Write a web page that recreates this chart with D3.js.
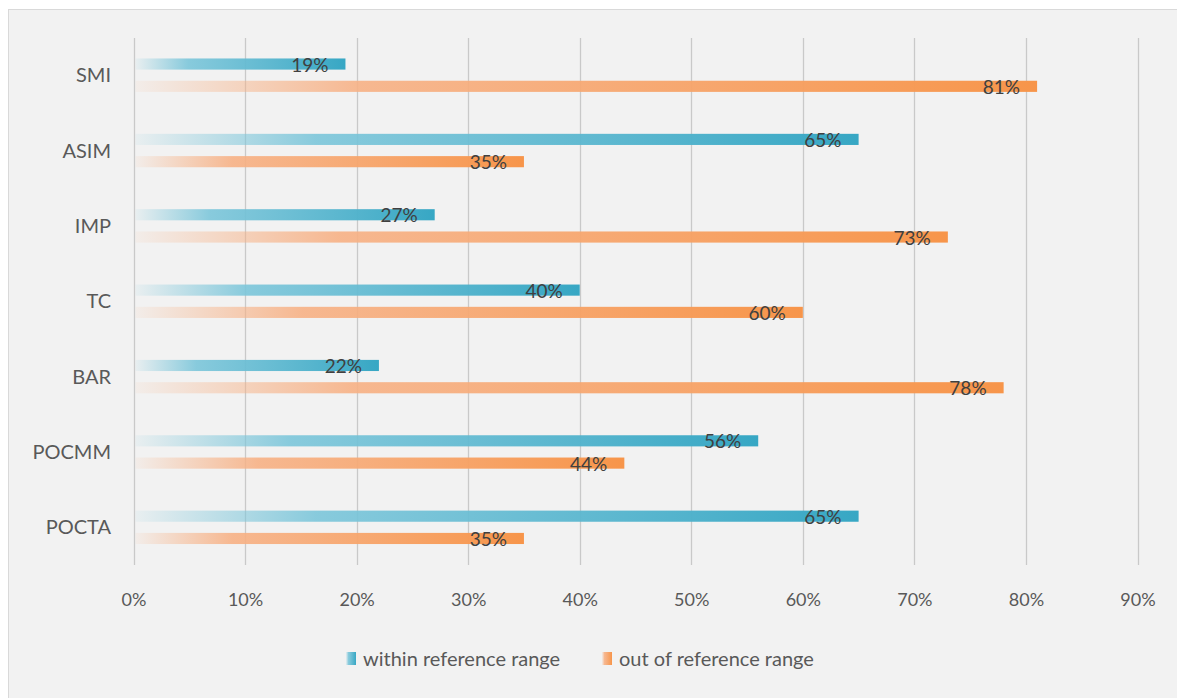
<!DOCTYPE html>
<html>
<head>
<meta charset="utf-8">
<script src="https://cdn.jsdelivr.net/npm/d3@7"></script>
<style>
  body { margin: 0; background: #fff; }
  text { font-family: Lato, "Open Sans", sans-serif; }
</style>
</head>
<body>
<div id="chart"></div>
<script>

// categories top to bottom
var categories = ["SMI", "ASIM", "IMP", "TC", "BAR", "POCMM", "POCTA"];
var withinRange = [0.19, 0.65, 0.27, 0.40, 0.22, 0.56, 0.65];
var outOfRange = [0.81, 0.35, 0.73, 0.60, 0.78, 0.44, 0.35];
var seriesNames = ["within reference range", "out of reference range"];
var xTicks = [0, 0.1, 0.2, 0.3, 0.4, 0.5, 0.6, 0.7, 0.8, 0.9];

var width = 1177, height = 698;

var svg = d3.select("#chart").append("svg")
  .attr("width", width)
  .attr("height", height);

// gradients like the office fill: pale at left, full colour at bar end
var defs = svg.append("defs");
var grads = [
  {id: "gBlue", mid: "#7cc6da", end: "#37a7c4"},
  {id: "gOrange", mid: "#f7b185", end: "#f7954a"}
];
grads.forEach(function(g) {
  var lg = defs.append("linearGradient").attr("id", g.id)
    .attr("x1", "0%").attr("x2", "100%").attr("y1", "0%").attr("y2", "0%");
  lg.append("stop").attr("offset", "0%").attr("stop-color", g.mid).attr("stop-opacity", 0.08);
  lg.append("stop").attr("offset", "25%").attr("stop-color", g.mid).attr("stop-opacity", 0.9);
  lg.append("stop").attr("offset", "100%").attr("stop-color", g.end).attr("stop-opacity", 1);
});

// chart frame
svg.append("rect")
  .attr("x", 8.5).attr("y", 9.5)
  .attr("width", width + 10).attr("height", height + 10)
  .attr("fill", "#f2f2f2")
  .attr("stroke", "#d9d9d9");

var x = d3.scaleLinear().domain([0, 0.9]).range([133.5, 1137.5]);
var y = d3.scaleBand().domain(categories).range([37.5, 565]);
var sub = d3.scaleBand().domain([0, 1]).range([-20.5, 20.5]).paddingInner(0.5).paddingOuter(0.17);

// gridlines
svg.append("g").selectAll("line")
  .data(xTicks)
  .join("line")
  .attr("x1", function(d) { return Math.round(x(d)) + 0.5; })
  .attr("x2", function(d) { return Math.round(x(d)) + 0.5; })
  .attr("y1", 38).attr("y2", 565)
  .attr("stroke", "#c9c9c9")
  .attr("stroke-width", 1.3);

// x axis labels
var xAxis = d3.axisBottom(x).tickValues(xTicks).tickFormat(d3.format(".0%")).tickSize(0).tickPadding(0);
var gx = svg.append("g").attr("transform", "translate(0,593)").call(xAxis);
gx.select(".domain").remove();
gx.selectAll("text")
  .attr("fill", "#595959")
  .style("font-size", "18px")
  .attr("dy", "0.7em");

// category labels
var yAxis = d3.axisLeft(y).tickSize(0).tickPadding(0);
var gy = svg.append("g").attr("transform", "translate(111,0)").call(yAxis);
gy.select(".domain").remove();
gy.selectAll("text")
  .attr("fill", "#595959")
  .style("font-size", "20px")
  .attr("dy", "0.35em");

// bars
var rows = categories.map(function(c, i) {
  return {cat: c, vals: [withinRange[i], outOfRange[i]]};
});
var fills = ["url(#gBlue)", "url(#gOrange)"];

var row = svg.append("g").selectAll("g")
  .data(rows)
  .join("g")
  .attr("transform", function(d) { return "translate(0," + (y(d.cat) + y.bandwidth() / 2) + ")"; });

row.selectAll("rect")
  .data(function(d) { return d.vals; })
  .join("rect")
  .attr("x", x(0) + 2)
  .attr("y", function(d, i) { return sub(i); })
  .attr("width", function(d) { return x(d) - x(0) - 2; })
  .attr("height", sub.bandwidth())
  .attr("fill", function(d, i) { return fills[i]; });

row.selectAll("text")
  .data(function(d) { return d.vals; })
  .join("text")
  .attr("x", function(d) { return x(d) - 17; })
  .attr("y", function(d, i) { return sub(i) + sub.bandwidth() / 2 + 1; })
  .attr("dy", "0.35em")
  .attr("text-anchor", "end")
  .attr("fill", "#404040")
  .style("font-size", "19px")
  .text(function(d) { return Math.round(d * 100) + "%"; });

// legend
var legendX = [346, 602];
var legend = svg.append("g").selectAll("g")
  .data(seriesNames)
  .join("g")
  .attr("transform", function(d, i) { return "translate(" + legendX[i] + ",652)"; });

legend.append("rect")
  .attr("width", 10).attr("height", 13)
  .attr("fill", function(d, i) { return fills[i]; });

legend.append("text")
  .attr("x", 17).attr("y", 6.5)
  .attr("dy", "0.35em")
  .attr("fill", "#595959")
  .style("font-size", "20px")
  .text(function(d) { return d; });

</script>
</body>
</html>
